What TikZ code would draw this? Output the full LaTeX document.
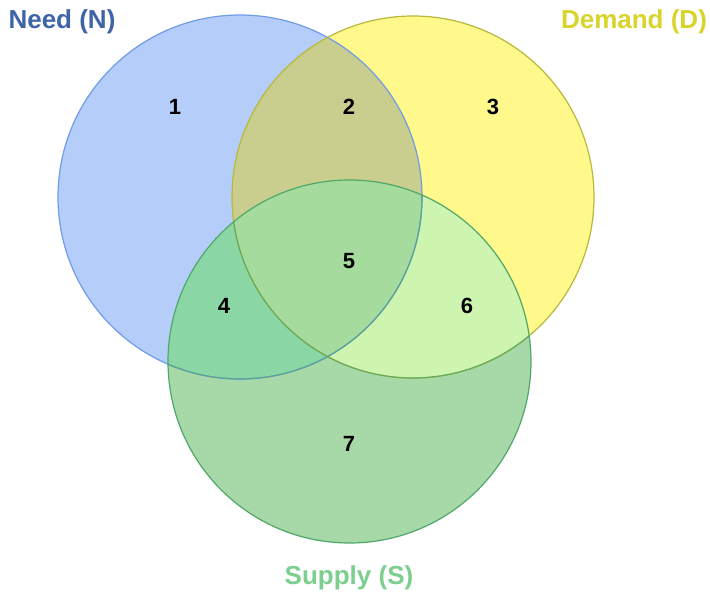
\documentclass[tikz,border=0pt]{standalone}
\usepackage{fontspec}
\setmainfont{Liberation Sans}
\definecolor{nOnly}{HTML}{B5CDF9}
\definecolor{dOnly}{HTML}{FFF98C}
\definecolor{sOnly}{HTML}{A6D8A8}
\definecolor{nd}{HTML}{C9CD8D}
\definecolor{ns}{HTML}{8BD6A5}
\definecolor{ds}{HTML}{CDF5B0}
\definecolor{nds}{HTML}{A5DC9D}
\definecolor{nLine}{HTML}{6F9BE8}
\definecolor{dLine}{HTML}{B8B83A}
\definecolor{sLine}{HTML}{4FA86A}
\definecolor{nText}{HTML}{3F64A8}
\definecolor{dText}{HTML}{D8D42A}
\definecolor{sText}{HTML}{7CCF8E}
\tikzset{
  num/.style={font=\fontsize{22}{22}\selectfont\bfseries, text=black, inner sep=0pt},
  setlabel/.style={font=\fontsize{26}{26}\selectfont\bfseries, inner sep=0pt},
  rim/.style={line width=1.2pt}
}
\begin{document}
\begin{tikzpicture}[x=1pt,y=-1pt]
\useasboundingbox (0,0) rectangle (710,594);
\fill[white] (0,0) rectangle (710,594);
% centres and radius
\coordinate (N) at (240,197);
\coordinate (D) at (413,197);
\coordinate (S) at (349.5,361.5);
\def\rN{182}\def\rD{181}\def\rS{181.5}
% single regions
\fill[nOnly] (N) circle (\rN);
\fill[dOnly] (D) circle (\rD);
\fill[sOnly] (S) circle (\rS);
% pair overlaps
\begin{scope}
  \clip (N) circle (\rN);
  \fill[nd] (D) circle (\rD);
  \fill[ns] (S) circle (\rS);
\end{scope}
\begin{scope}
  \clip (D) circle (\rD);
  \fill[ds] (S) circle (\rS);
\end{scope}
% triple overlap
\begin{scope}
  \clip (N) circle (\rN);
  \clip (D) circle (\rD);
  \fill[nds] (S) circle (\rS);
\end{scope}
% rims
\draw[rim, nLine] (N) circle (\rN);
\draw[rim, dLine] (D) circle (\rD);
\begin{scope}
  \clip (S) circle (\rS);
  \draw[rim, sLine!70!nLine] (N) circle (\rN);
  \draw[rim, sLine!80!dLine] (D) circle (\rD);
\end{scope}
\draw[rim, sLine] (S) circle (\rS);
% region numbers
\node[num] (n1) at (175,107) {1};
\node[num] (n2) at (349,107) {2};
\node[num] (n3) at (493,107) {3};
\node[num] (n5) at (349,261) {5};
\node[num] (n4) at (224,306) {4};
\node[num] (n6) at (467,306) {6};
\node[num] (n7) at (349,444) {7};
% set labels
\node[setlabel, text=nText] (lN) at (62,22) {Need (N)};
\node[setlabel, text=dText] (lD) at (634,22) {Demand (D)};
\node[setlabel, text=sText] (lS) at (349,578) {Supply (S)};
\end{tikzpicture}
\end{document}
